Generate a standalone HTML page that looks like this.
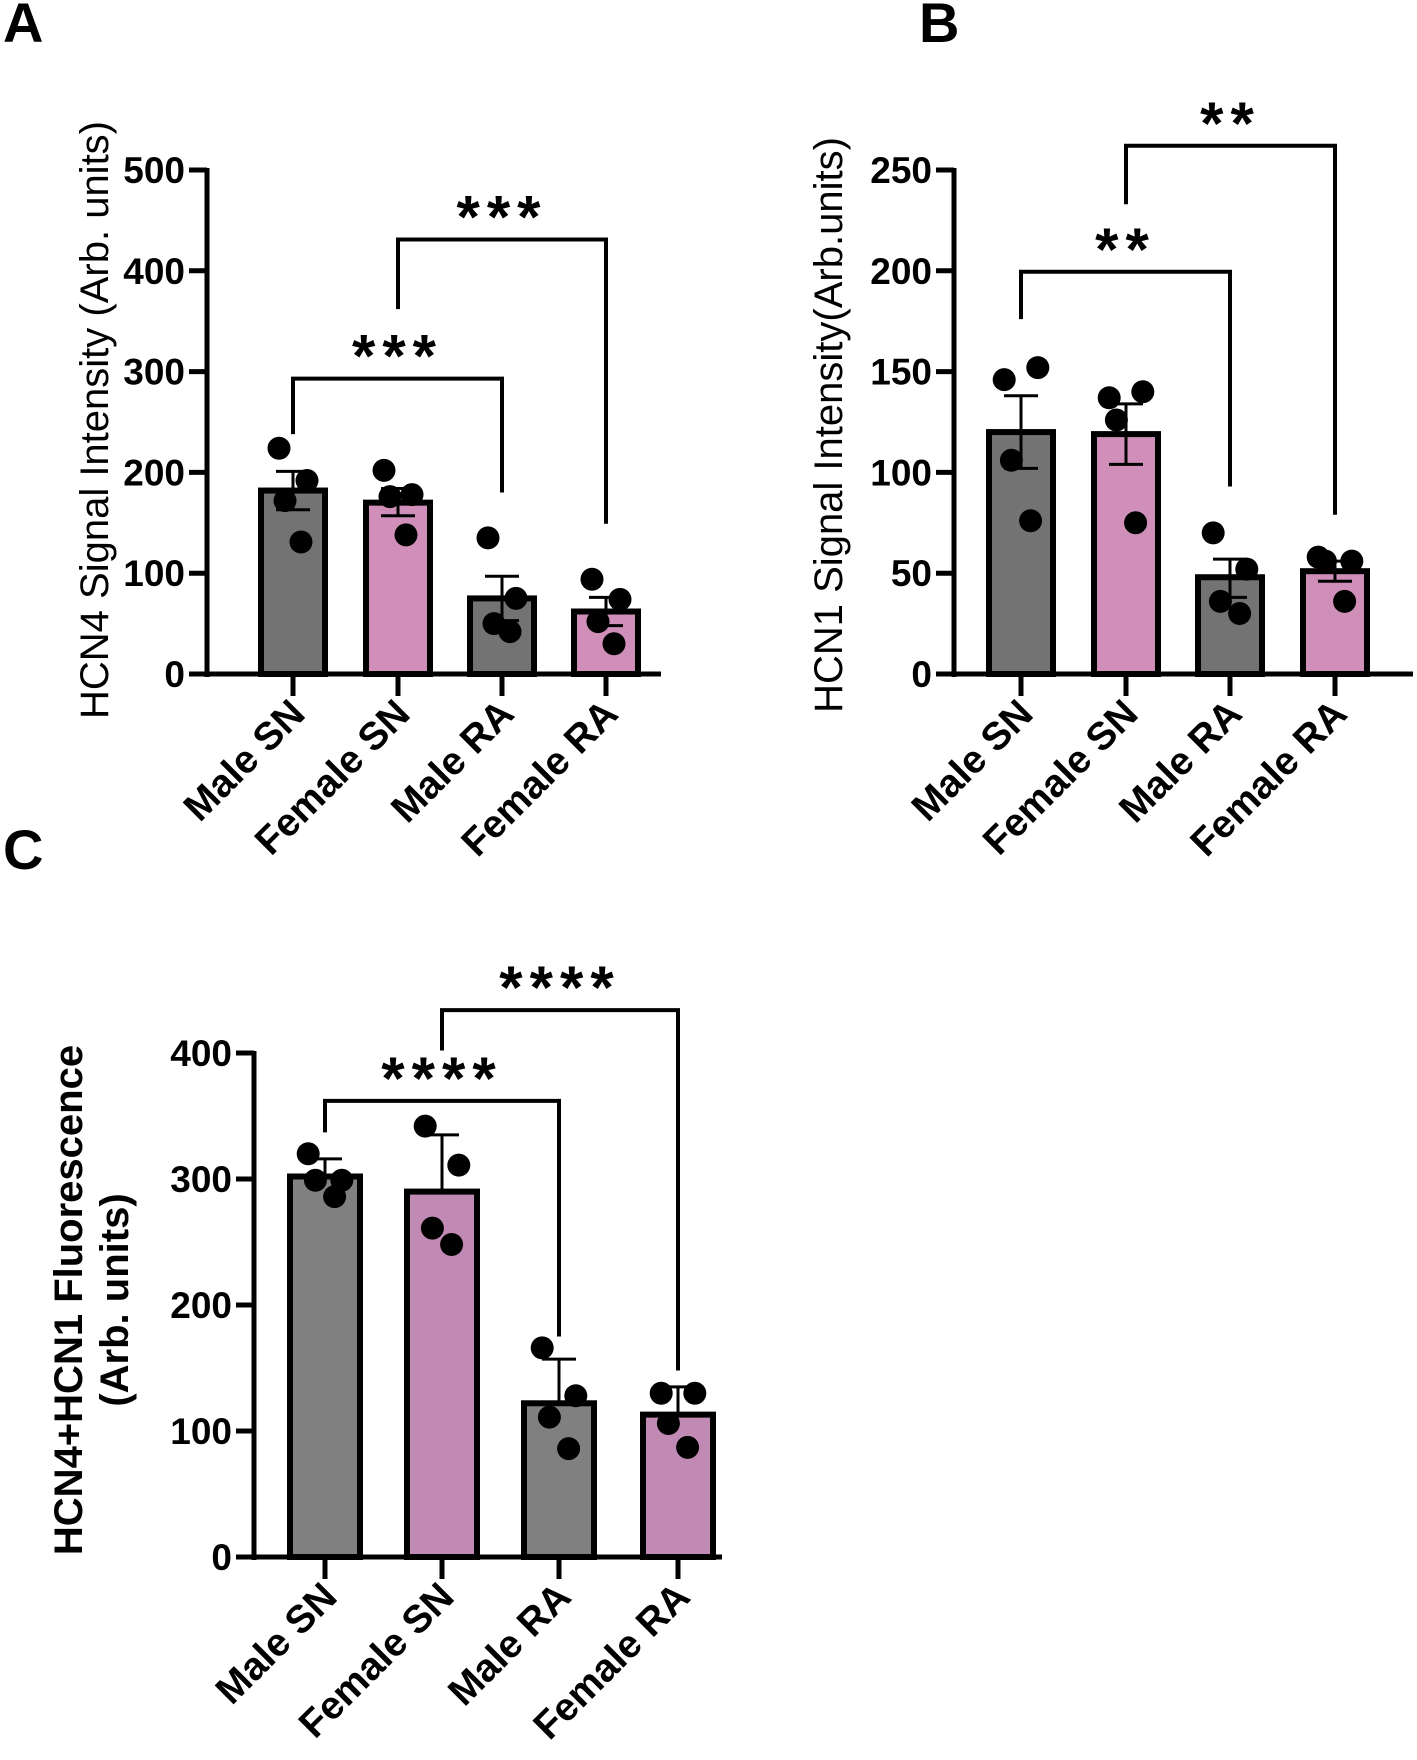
<!DOCTYPE html>
<html><head><meta charset="utf-8"><style>
body{margin:0;background:#fff;}
svg{display:block;font-family:"Liberation Sans",Arial,sans-serif;}
</style></head><body>
<svg id="fig" width="1417" height="1760" viewBox="0 0 1417 1760" xmlns="http://www.w3.org/2000/svg">
<text x="3" y="42" font-size="56" font-weight="bold">A</text>
<text x="919" y="42" font-size="56" font-weight="bold">B</text>
<text x="3" y="869" font-size="56" font-weight="bold">C</text>
</svg>
<script>
const categories = ["Male SN","Female SN","Male RA","Female RA"];
// Panel A
const aMeans = [182,170,75,62];
const aErrLo = [163,157,53,48];
const aErrHi = [201,184,97,76];
const aPoints = [[224,192,172,131],[202,178,176,138],[135,75,50,42],[94,74,52,30]];
const aTicks = [0,100,200,300,400,500];
// Panel B
const bMeans = [120,119,48,51];
const bErrLo = [102,104,38,46];
const bErrHi = [138,134,57,56];
const bPoints = [[146,152,106,76],[137,140,126,75],[70,52,36,30],[58,56,56,36]];
const bTicks = [0,50,100,150,200,250];
// Panel C
const cMeans = [302,290,122,113];
const cErrHi = [316,335,157,135];
const cPoints = [[320,299,299,286],[342,311,261,248],[166,128,111,86],[130,130,106,87]];
const cTicks = [0,100,200,300,400];

const svg = document.getElementById('fig');
const NS = 'http://www.w3.org/2000/svg';
function mk(tag, attrs, parent){
  const e = document.createElementNS(NS, tag);
  for (const k in attrs) e.setAttribute(k, attrs[k]);
  (parent||svg).appendChild(e);
  return e;
}
const jit = [-14,14,-8,8];

function panel(cfg){
  const g = mk('g', {});
  
  
  const y = v => cfg.y0 - v / cfg.max * (cfg.y0 - cfg.yTop);
  const x = i => cfg.cx[i];
  const ax = mk('line', {x1:cfg.ax, y1:y(cfg.max)-2, x2:cfg.ax, y2:cfg.y0+3, stroke:'#000','stroke-width':5}, g);
  
  
  const xa = mk('line', {x1:cfg.ax-18, y1:cfg.y0, x2:cfg.axEnd, y2:cfg.y0, stroke:'#000','stroke-width':5}, g);
  
  
  cfg.ticks.forEach(t => {
    mk('line', {x1:cfg.ax-18, y1:y(t), x2:cfg.ax, y2:y(t), stroke:'#000','stroke-width':5}, g);
    const tl = mk('text', {x:cfg.ax-22, y:y(t)+13, 'text-anchor':'end','font-size':37,'font-weight':'bold'}, g);
    tl.textContent = t;
    
    
  });
  cfg.titles.forEach(tt => {
    const ti = mk('text', {x:0, y:0, 'text-anchor':'middle','font-size':tt.fs,'font-weight':tt.fw,
      transform:`translate(${tt.x},${tt.y}) rotate(-90)`}, g);
    ti.textContent = tt.t;
    
    
  });
  cfg.means.forEach((m, i) => {
    const b = mk('rect', {x:x(i)-cfg.bw/2, y:y(m), width:cfg.bw, height:cfg.y0-y(m), fill:cfg.colors[i%2], stroke:'#000','stroke-width':6}, g);
    
    
    mk('line', {x1:x(i), y1:cfg.y0, x2:x(i), y2:cfg.y0+22, stroke:'#000','stroke-width':5}, g);
    const lbl = mk('text', {x:0, y:0, 'text-anchor':'end','font-size':39,'font-weight':'bold',
      transform:`translate(${x(i)+14},${cfg.y0+42}) rotate(-45)`}, g);
    lbl.textContent = categories[i];
    
    
  });
  cfg.means.forEach((m, i) => {
    const hi = cfg.errHi[i];
    const lo = cfg.errLo ? cfg.errLo[i] : m;
    const e = mk('line', {x1:x(i), y1:y(hi), x2:x(i), y2:y(lo), stroke:'#000','stroke-width':3}, g);
    
    
    mk('line', {x1:x(i)-17, y1:y(hi), x2:x(i)+17, y2:y(hi), stroke:'#000','stroke-width':3}, g);
    if (cfg.errLo) mk('line', {x1:x(i)-17, y1:y(lo), x2:x(i)+17, y2:y(lo), stroke:'#000','stroke-width':3}, g);
  });
  cfg.points.forEach((arr, i) => arr.forEach((v, j) => {
    const c = mk('circle', {cx:x(i)+jit[j]*cfg.js, cy:y(v), r:11.5, fill:'#000'}, g);
    
    
  }));
  cfg.brackets.forEach(br => {
    const p = mk('path', {d:`M${x(br.a)},${y(br.da)} V${y(br.h)} H${x(br.b)} V${y(br.db)}`, fill:'none', stroke:'#000','stroke-width':4}, g);
    
    
    const s = mk('text', {x:(x(br.a)+x(br.b))/2, y:y(br.h) - cfg.starOff, 'text-anchor':'middle','font-size':60,'font-weight':'bold','letter-spacing':7}, g);
    s.textContent = br.s;
    
    
  });
}

panel({name:'panel-a', ax:207, axEnd:661, y0:674, yTop:170, max:500, ticks:aTicks,
  cx:[293,398,502,606], bw:64, colors:['#737373','#cf8fb8'], js:1,
  means:aMeans, errLo:aErrLo, errHi:aErrHi, points:aPoints, starOff:2,
  titles:[{t:'HCN4  Signal Intensity (Arb. units)', x:108, y:420, fs:40, fw:'normal'}],
  brackets:[{a:0,b:2,h:293,da:238,db:180,s:'***'},{a:1,b:3,h:431,da:362,db:149,s:'***'}]});

panel({name:'panel-b', ax:954, axEnd:1413, y0:674, yTop:170, max:250, ticks:bTicks,
  cx:[1021,1126,1230,1335], bw:64, colors:['#737373','#cf8fb8'], js:1.2,
  means:bMeans, errLo:bErrLo, errHi:bErrHi, points:bPoints, starOff:2,
  titles:[{t:'HCN1 Signal Intensity(Arb.units)', x:842, y:425, fs:40, fw:'normal'}],
  brackets:[{a:0,b:2,h:199.5,da:176,db:93,s:'**'},{a:1,b:3,h:262,da:233,db:79,s:'**'}]});

panel({name:'panel-c', ax:254, axEnd:722, y0:1557, yTop:1053, max:400, ticks:cTicks,
  cx:[325,442,559,678], bw:70, colors:['#808080','#c08ab5'], js:1.2,
  means:cMeans, errLo:null, errHi:cErrHi, points:cPoints, starOff:2,
  titles:[{t:'HCN4+HCN1 Fluorescence', x:82, y:1300, fs:40, fw:'bold'},
          {t:'(Arb. units)', x:128, y:1300, fs:40, fw:'bold'}],
  brackets:[{a:0,b:2,h:362,da:337,db:175,s:'****'},{a:1,b:3,h:434,da:402,db:148,s:'****'}]});
</script>
</body></html>
